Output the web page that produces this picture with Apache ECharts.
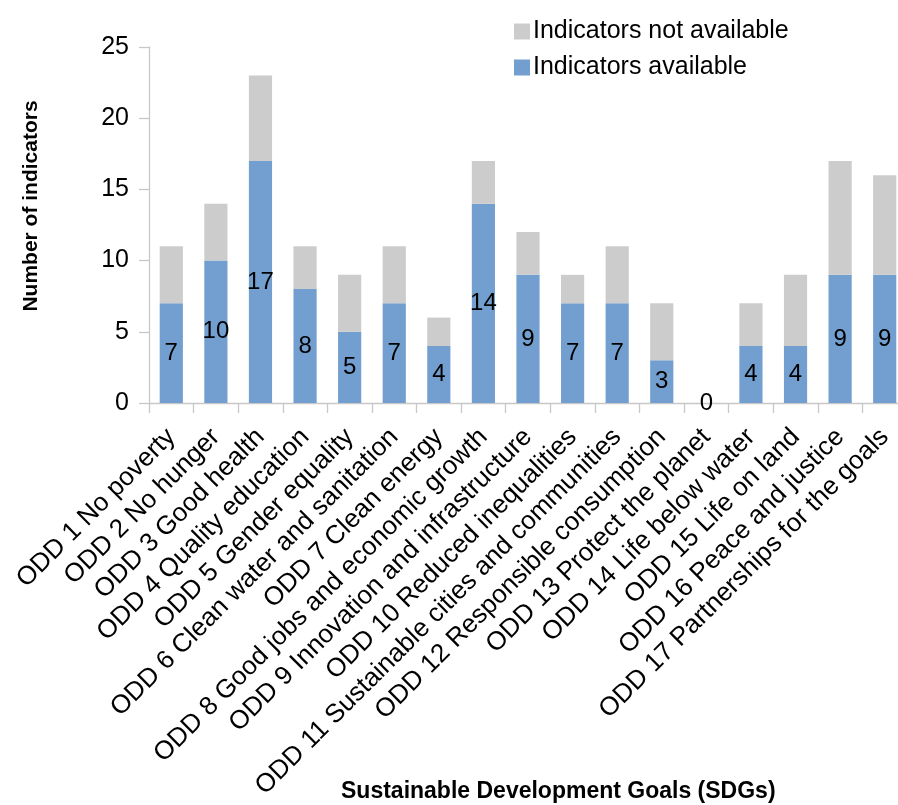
<!DOCTYPE html>
<html><head><meta charset="utf-8">
<script src="https://cdn.jsdelivr.net/npm/echarts@6/dist/echarts.min.js"></script>
<style>html,body{margin:0;padding:0;background:#fff}#c{width:898px;height:805px}</style>
</head><body><div id="c"></div>
<script>
const categories = ["ODD 1 No poverty","ODD 2 No hunger","ODD 3 Good health","ODD 4 Quality education","ODD 5 Gender equality","ODD 6 Clean water and sanitation","ODD 7 Clean energy","ODD 8 Good jobs and economic growth","ODD 9 Innovation and infrastructure","ODD 10 Reduced inequalities","ODD 11 Sustainable cities and communities","ODD 12 Responsible consumption","ODD 13 Protect the planet","ODD 14 Life below water","ODD 15 Life on land","ODD 16 Peace and justice","ODD 17 Partnerships for the goals"];
const available = [7,10,17,8,5,7,4,14,9,7,7,3,0,4,4,9,9];
const notAvailable = [4,4,6,3,4,4,2,3,3,2,4,4,0,3,5,8,7];
const yTicks = [0,5,10,15,20,25];
const xTitle = 'Sustainable Development Goals (SDGs)';

const chart = echarts.init(document.getElementById('c'));
const font = 'Liberation Sans, Arial, sans-serif';
chart.setOption({
  animation:false,
  textStyle:{fontFamily:font},
  title:{
    text:xTitle, left:341, top:780, padding:0,
    textStyle:{fontSize:23, fontWeight:'bold', color:'#000', fontFamily:font}
  },
  legend:{
    left:509, top:14, orient:'vertical', itemGap:11,
    itemWidth:16, itemHeight:16, icon:'rect',
    textStyle:{fontSize:25, color:'#000', fontFamily:font, padding:[0,0,0,-2]},
    data:['Indicators not available','Indicators available']
  },
  grid:{left:149, top:47, width:758, height:356, containLabel:false, outerBoundsMode:'none'},
  xAxis:{
    type:'category', data:categories,
    axisLine:{lineStyle:{color:'#c8c8c8', width:1.3}},
    axisTick:{show:true, length:10, lineStyle:{color:'#c8c8c8', width:1.3}},
    axisLabel:{rotate:45, fontSize:26, color:'#000', margin:30, interval:0, fontFamily:font}
  },
  yAxis:{
    type:'value', min:0, max:25, interval:5,
    name:'Number of indicators', nameLocation:'middle', nameGap:107, nameRotate:90,
    nameTextStyle:{fontSize:21, fontWeight:'bold', color:'#000', fontFamily:font, padding:[0,0,0,38]},
    axisLine:{show:true, lineStyle:{color:'#c8c8c8', width:1.3}},
    axisTick:{show:true, length:10, lineStyle:{color:'#c8c8c8', width:1.3}},
    splitLine:{show:false},
    axisLabel:{fontSize:25, color:'#000', margin:20, fontFamily:font,
      formatter:v=>yTicks.includes(v)?String(v):''}
  },
  series:[
    {name:'Indicators available', type:'bar', stack:'a', data:available, barWidth:'52%',
     itemStyle:{color:'#729fcf'},
     label:{show:true, position:'inside', fontSize:24, color:'#000', fontFamily:font}},
    {name:'Indicators not available', type:'bar', stack:'a', data:notAvailable, barWidth:'52%',
     itemStyle:{color:'#cccccc'}}
  ]
});
</script></body></html>
